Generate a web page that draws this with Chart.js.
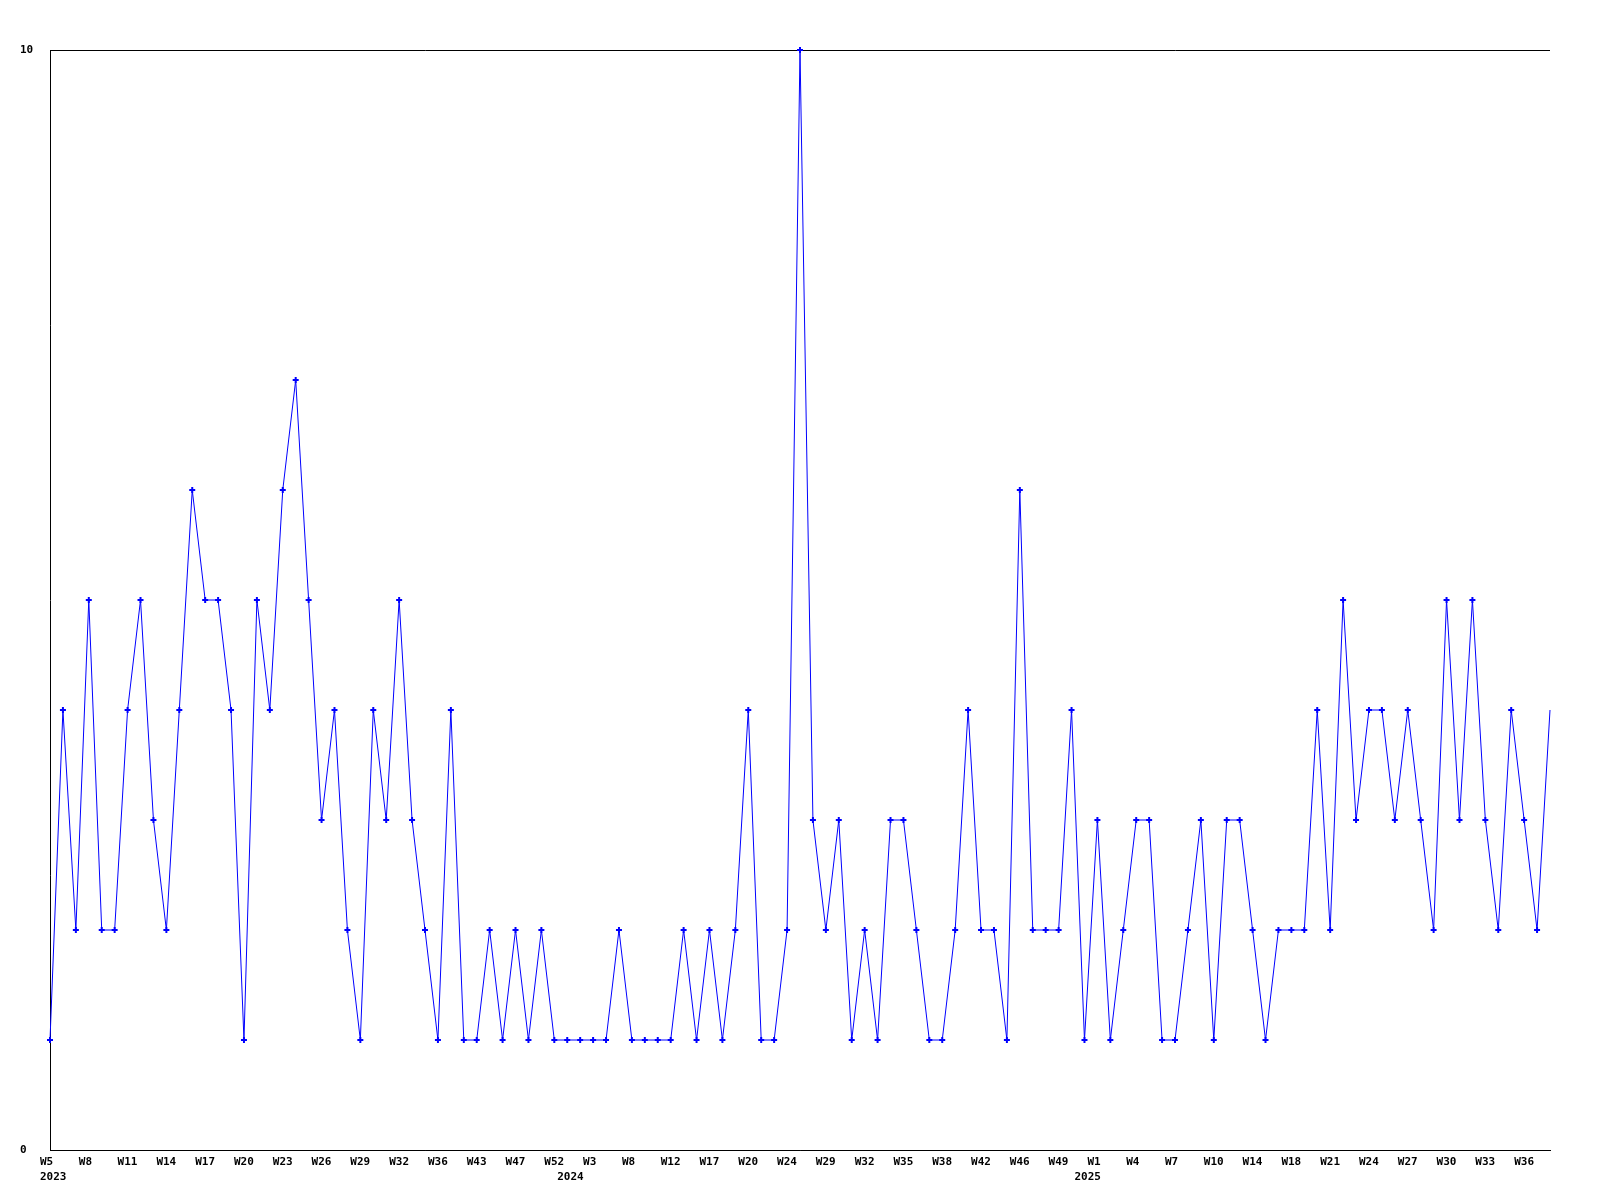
<!DOCTYPE html>
<html>
<head>
<meta charset="utf-8">
<script src="https://cdn.jsdelivr.net/npm/chart.js@4.4.1/dist/chart.umd.min.js"></script>
<style>
  html, body { margin: 0; padding: 0; background: #ffffff; }
  #c { display: block; }
</style>
</head>
<body>
<canvas id="c" width="1600" height="1200"></canvas>
<script>
// ---- data ----
const weeks = [
  'W5','W6','W7','W8','W9','W10','W11','W12','W13','W14','W15','W16','W17','W18','W19','W20',
  'W21','W22','W23','W24','W25','W26','W27','W28','W29','W30','W31','W32','W33','W35','W36','W38',
  'W41','W43','W44','W46','W47','W49','W51','W52',
  'W1','W2','W3','W5','W6','W8','W9','W11','W12','W14','W15','W17','W18','W19','W20','W22',
  'W23','W24','W25','W27','W29','W30','W31','W32','W33','W34','W35','W36','W37','W38','W39','W41',
  'W42','W43','W45','W46','W47','W48','W49','W50','W52',
  'W1','W2','W3','W4','W5','W6','W7','W8','W9','W10','W11','W13','W14','W16','W17','W18',
  'W19','W20','W21','W22','W23','W24','W25','W26','W27','W28','W29','W30','W31','W32','W33','W34',
  'W35','W36','W37','W38'
];
const counts = [
  1,4,2,5,2,2,4,5,3,2,4,6,5,5,4,1,
  5,4,6,7,5,3,4,2,1,4,3,5,3,2,1,4,
  1,1,2,1,2,1,2,1,
  1,1,1,1,2,1,1,1,1,2,1,2,1,2,4,1,
  1,2,10,3,2,3,1,2,1,3,3,2,1,1,2,4,
  2,2,1,6,2,2,2,4,1,
  3,1,2,3,3,1,1,2,3,1,3,3,2,1,2,2,
  2,4,2,5,3,4,4,3,4,3,2,5,3,5,3,2,
  4,3,2,4
];
const yearMarks = { 0: '2023', 40: '2024', 80: '2025' };
const tickEvery = 3;
const yTicks = [0, 10];

const FONT = { family: "'DejaVu Sans Mono', 'Liberation Mono', monospace", size: 11, weight: 'bold', lineHeight: '15px' };

new Chart(document.getElementById('c'), {
  type: 'line',
  data: {
    labels: weeks,
    datasets: [{
      data: counts,
      borderColor: '#0000ff',
      backgroundColor: '#0000ff',
      borderWidth: 1,
      tension: 0,
      fill: false,
      pointStyle: 'cross',
      pointRadius: (ctx) => ctx.dataIndex === counts.length - 1 ? 0 : 3,
      pointBorderWidth: 2,
      pointBorderColor: '#0000ff',
      pointBackgroundColor: '#0000ff',
      clip: false
    }]
  },
  options: {
    responsive: false,
    animation: false,
    devicePixelRatio: 1,
    layout: { padding: { left: 20, top: 50, right: 50, bottom: 0 } },
    plugins: { legend: { display: false }, tooltip: { enabled: false } },
    scales: {
      x: {
        type: 'category',
        offset: false,
        grid: { display: false, drawTicks: false },
        border: { display: true, color: '#000000', width: 1 },
        ticks: {
          autoSkip: false,
          maxRotation: 0,
          minRotation: 0,
          align: 'start',
          labelOffset: -10,
          padding: 5,
          color: '#000000',
          font: FONT,
          callback: function (val, i) {
            const wk = (i % tickEvery === 0) ? weeks[i] : '';
            if (yearMarks[i] !== undefined) return [wk, yearMarks[i]];
            return wk;
          }
        },
        afterFit: (s) => { s.height = 50; }
      },
      y: {
        min: 0,
        max: 10,
        afterBuildTicks: (s) => { s.ticks = yTicks.map(v => ({ value: v })); },
        grid: { color: '#000000', lineWidth: 1, drawTicks: false },
        border: { display: true, color: '#000000', width: 1 },
        ticks: {
          crossAlign: 'far',
          padding: 0,
          color: '#000000',
          font: FONT
        },
        afterFit: (s) => { s.width = 30; }
      }
    }
  }
});
</script>
</body>
</html>
